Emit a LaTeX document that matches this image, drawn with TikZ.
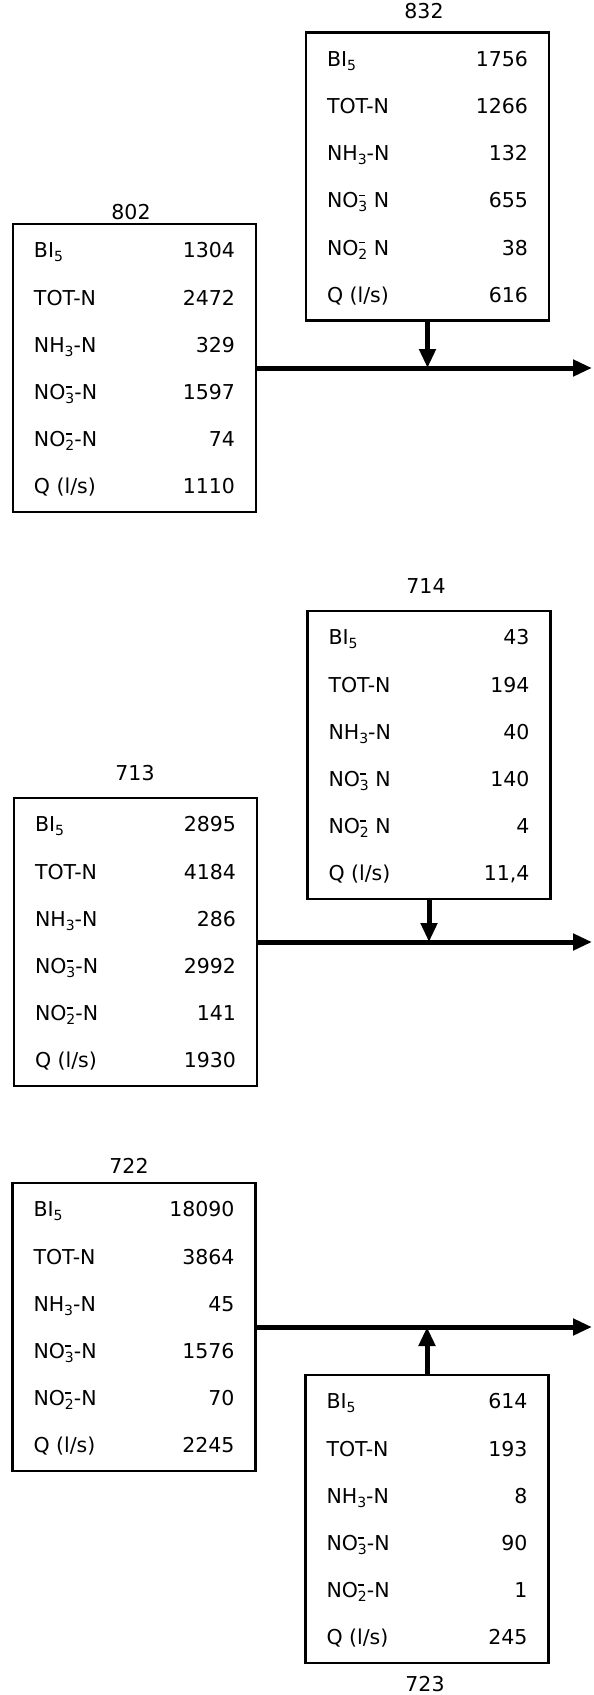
\documentclass[tikz,border=0pt]{standalone}
\usepackage{fontspec}
\setmainfont{DejaVu Sans}
\usetikzlibrary{arrows.meta,calc}
\newcommand\sbs[1]{\raisebox{-0.35ex}{\fontsize{14}{14}\selectfont #1}}
\newcommand\ionsb[1]{\makebox[0pt][l]{\hspace{0.5pt}\raisebox{1.05ex}{\rule{6pt}{1.6pt}}}\raisebox{-0.35ex}{\fontsize{14}{14}\selectfont #1}}
\newcommand\rowlabel[2]{\ifcase#1\or BI\sbs{5}\or TOT-N\or NH\sbs{3}-N\or NO\ionsb{3}#2N\or NO\ionsb{2}#2N\or Q (l/s)\fi}
\tikzset{
  databox/.style={draw, line width=2.4pt, rectangle, inner sep=0pt,
    minimum width=243pt, minimum height=288pt},
  rowtxt/.style={inner sep=0pt, font=\fontsize{20.5}{21}\selectfont},
  lbl/.style={inner sep=0pt, font=\fontsize{20.5}{21}\selectfont},
  flow/.style={line width=5pt, -{Triangle[length=19pt,width=16pt]}}
}
\newcommand\databox[5]{%
  \node[databox] (#1) at (#2,#3) {};
  \foreach \v [count=\i] in {#5} {
    \node[rowtxt, anchor=base west] (#1-l\i) at ($(#1.north west)+(22,{-35-47.2*(\i-1)})$) {\rowlabel{\i}{#4}};
    \node[rowtxt, anchor=base east] (#1-v\i) at ($(#1.north east)+(-22,{-35-47.2*(\i-1)})$) {\v};
  }
}
\begin{document}
\begin{tikzpicture}[x=1pt,y=1pt]
\useasboundingbox[fill=white] (0,0) rectangle (594,-1695);
% group 1
\databox{b802}{134.5}{-368}{-}{1304,2472,329,1597,74,1110}
\databox{b832}{427.5}{-176.5}{\ }{1756,1266,132,655,38,616}
\node[lbl, anchor=base] (t802) at ($(b802.north)+(-3.5,3)$) {802};
\node[lbl, anchor=base] (t832) at ($(b832.north)+(-3.5,13)$) {832};
\coordinate (e1) at (592,-368);
\draw[flow] (b802.east) -- (e1);
\draw[flow] (b832.south) -- (b832.south |- b802.east);
% group 2
\databox{b713}{135.5}{-942}{-}{2895,4184,286,2992,141,1930}
\databox{b714}{429}{-755}{\ }{43,194,40,140,4,{11,4}}
\node[lbl, anchor=base] (t713) at ($(b713.north)+(-0.5,16)$) {713};
\node[lbl, anchor=base] (t714) at ($(b714.north)+(-3,16)$) {714};
\coordinate (e2) at (592,-942);
\draw[flow] (b713.east) -- (e2);
\draw[flow] (b714.south) -- (b714.south |- b713.east);
% group 3
\databox{b722}{134}{-1327}{-}{18090,3864,45,1576,70,2245}
\databox{b723}{427}{-1519}{-}{614,193,8,90,1,245}
\node[lbl, anchor=base] (t722) at ($(b722.north)+(-5,8)$) {722};
\node[lbl, anchor=base] (t723) at ($(b723.south)+(-2,-27)$) {723};
\coordinate (e3) at (592,-1327);
\draw[flow] (b722.east) -- (e3);
\draw[flow] (b723.north) -- (b723.north |- b722.east);
\end{tikzpicture}
\end{document}
